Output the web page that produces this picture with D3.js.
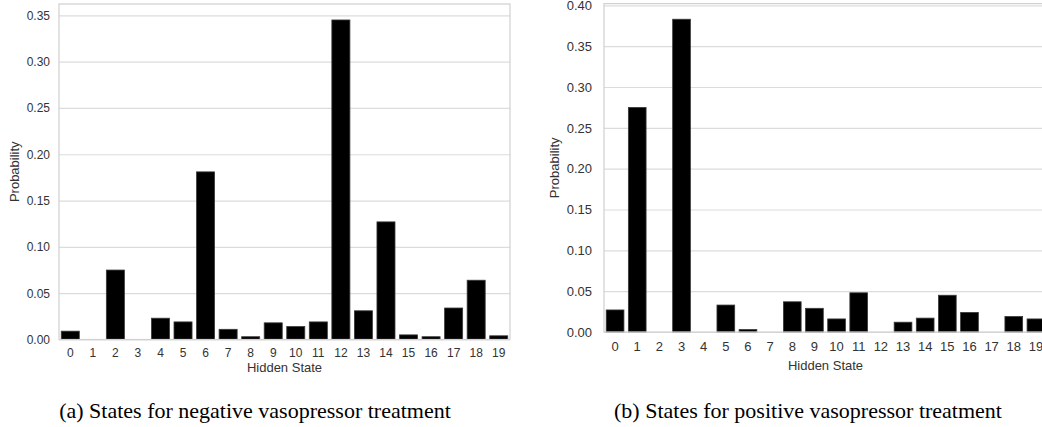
<!DOCTYPE html>
<html>
<head>
<meta charset="utf-8">
<script src="https://cdn.jsdelivr.net/npm/d3@7"></script>
<style>
  html, body { margin: 0; padding: 0; background: #fff; }
  svg { display: block; }
</style>
</head>
<body>
<svg width="1042" height="427"></svg>
<script>
// hidden states shown on the x axis
const states = ['0','1','2','3','4','5','6','7','8','9','10','11','12','13','14','15','16','17','18','19'];

// (a) negative vasopressor treatment
const negProb = [0.009, 0, 0.075, 0, 0.023, 0.019, 0.181, 0.011, 0.003, 0.018,
                 0.014, 0.019, 0.345, 0.031, 0.127, 0.005, 0.003, 0.034, 0.064, 0.004];
const negTicks = [0, 0.05, 0.10, 0.15, 0.20, 0.25, 0.30, 0.35];

// (b) positive vasopressor treatment
const posProb = [0.027, 0.275, 0, 0.383, 0, 0.033, 0.003, 0, 0.037, 0.029,
                 0.016, 0.048, 0, 0.012, 0.017, 0.045, 0.024, 0, 0.019, 0.016];
const posTicks = [0, 0.05, 0.10, 0.15, 0.20, 0.25, 0.30, 0.35, 0.40];

const captions = ['(a) States for negative vasopressor treatment',
                  '(b) States for positive vasopressor treatment'];

const svg = d3.select('svg');
const textColor = '#333';

function panel(opts) {
    const x = d3.scaleBand()
        .domain(states)
        .range([opts.left, opts.right])
        .paddingInner(0.2)
        .paddingOuter(0.1);

    const y = d3.scaleLinear()
        .domain([0, d3.max(opts.values) * 1.05])
        .range([opts.bottom, opts.top]);

    const g = svg.append('g');

    // grid
    g.append('g')
        .attr('transform', `translate(${opts.left},0)`)
        .call(d3.axisLeft(y).tickValues(opts.ticks).tickSize(-(opts.right - opts.left)).tickFormat(''))
        .call(a => a.select('.domain').remove())
        .call(a => a.selectAll('line').attr('stroke', '#dcdcdc').attr('stroke-width', 1.2));

    // y tick labels
    g.append('g')
        .attr('transform', `translate(${opts.left},0)`)
        .call(d3.axisLeft(y).tickValues(opts.ticks).tickSize(0).tickPadding(opts.yPad).tickFormat(d3.format('.2f')))
        .call(a => a.select('.domain').remove())
        .call(a => a.selectAll('text')
            .attr('fill', textColor)
            .style('font-family', 'Liberation Sans, Arial, sans-serif')
            .style('font-size', opts.font + 'px'));

    // x tick labels
    g.append('g')
        .attr('transform', `translate(0,${opts.bottom})`)
        .call(d3.axisBottom(x).tickSize(0).tickPadding(opts.xPad))
        .call(a => a.select('.domain').remove())
        .call(a => a.selectAll('text')
            .attr('fill', textColor)
            .style('font-family', 'Liberation Sans, Arial, sans-serif')
            .style('font-size', opts.font + 'px'));

    // bars
    g.selectAll('rect.bar')
        .data(opts.values)
        .join('rect')
        .attr('class', 'bar')
        .attr('x', (d, i) => x(states[i]))
        .attr('width', x.bandwidth())
        .attr('y', d => y(d))
        .attr('height', d => opts.bottom - y(d))
        .attr('fill', '#000')
        .attr('stroke', d => d > 0 ? '#3a3a3a' : 'none')
        .attr('stroke-width', 0.8);

    // spines
    g.append('rect')
        .attr('x', opts.left)
        .attr('y', opts.top)
        .attr('width', opts.right - opts.left)
        .attr('height', opts.bottom - opts.top)
        .attr('fill', 'none')
        .attr('stroke', '#d0d0d0')
        .attr('stroke-width', 1.2);

    // axis titles
    g.append('text')
        .attr('transform', `translate(${opts.ylabX},${(opts.top + opts.bottom) / 2}) rotate(-90)`)
        .attr('text-anchor', 'middle')
        .attr('fill', textColor)
        .style('font-family', 'Liberation Sans, Arial, sans-serif')
        .style('font-size', opts.labFont + 'px')
        .text('Probability');

    g.append('text')
        .attr('x', (opts.left + opts.right) / 2)
        .attr('y', opts.xlabY)
        .attr('text-anchor', 'middle')
        .attr('fill', textColor)
        .style('font-family', 'Liberation Sans, Arial, sans-serif')
        .style('font-size', opts.labFont + 'px')
        .text('Hidden State');

    svg.append('text')
        .attr('x', opts.capX)
        .attr('y', 418)
        .attr('text-anchor', 'middle')
        .attr('fill', '#000')
        .style('font-family', 'Liberation Serif, Times New Roman, serif')
        .style('font-size', '22px')
        .text(opts.caption);
}

panel({
    values: negProb, ticks: negTicks, caption: captions[0],
    left: 59, right: 510, top: 4, bottom: 339.5,
    font: 12, labFont: 13, yPad: 9, xPad: 9,
    ylabX: 19, xlabY: 372, capX: 255
});

panel({
    values: posProb, ticks: posTicks, caption: captions[1],
    left: 604, right: 1047, top: 3.6, bottom: 332,
    font: 13, labFont: 13, yPad: 12, xPad: 10,
    ylabX: 559, xlabY: 370, capX: 808
});
</script>
</body>
</html>
